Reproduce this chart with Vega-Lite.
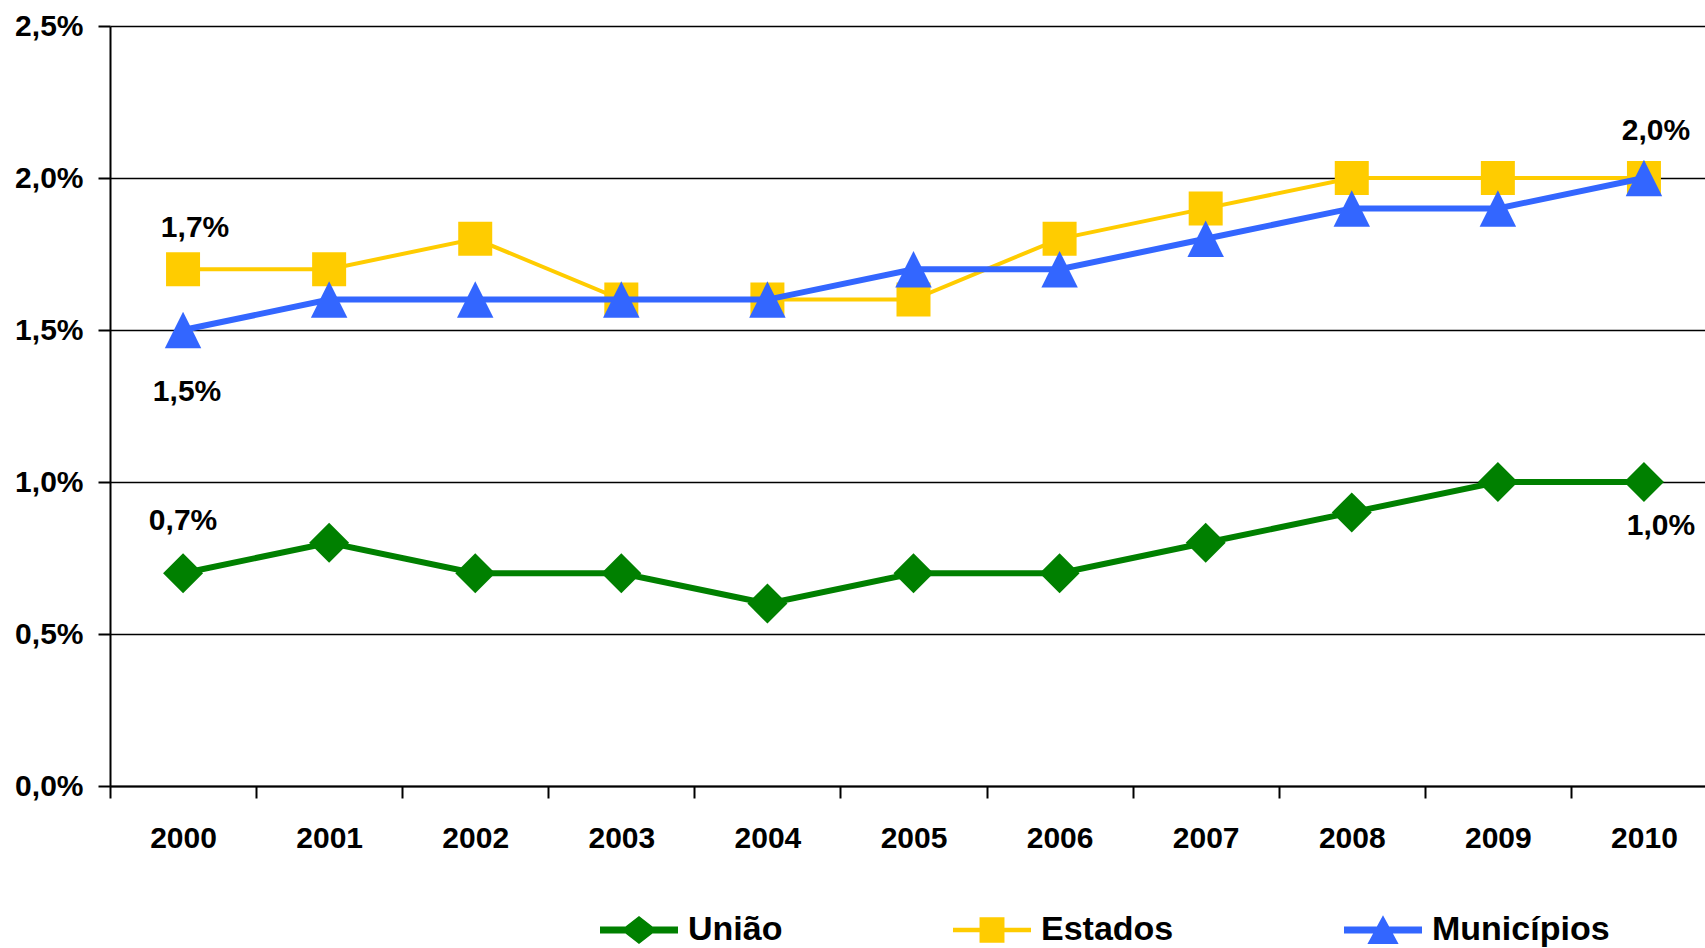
{
  "$schema": "https://vega.github.io/schema/vega-lite/v6.json",
  "width": 1607,
  "height": 760,
  "autosize": {"type": "none"},
  "padding": {"left": 110, "top": 26, "right": 0, "bottom": 162},
  "background": "white",
  "data": {
    "values": [
      {"year": "2000", "series": "União", "value": 0.7},
      {"year": "2001", "series": "União", "value": 0.8},
      {"year": "2002", "series": "União", "value": 0.7},
      {"year": "2003", "series": "União", "value": 0.7},
      {"year": "2004", "series": "União", "value": 0.6},
      {"year": "2005", "series": "União", "value": 0.7},
      {"year": "2006", "series": "União", "value": 0.7},
      {"year": "2007", "series": "União", "value": 0.8},
      {"year": "2008", "series": "União", "value": 0.9},
      {"year": "2009", "series": "União", "value": 1.0},
      {"year": "2010", "series": "União", "value": 1.0},
      {"year": "2000", "series": "Estados", "value": 1.7},
      {"year": "2001", "series": "Estados", "value": 1.7},
      {"year": "2002", "series": "Estados", "value": 1.8},
      {"year": "2003", "series": "Estados", "value": 1.6},
      {"year": "2004", "series": "Estados", "value": 1.6},
      {"year": "2005", "series": "Estados", "value": 1.6},
      {"year": "2006", "series": "Estados", "value": 1.8},
      {"year": "2007", "series": "Estados", "value": 1.9},
      {"year": "2008", "series": "Estados", "value": 2.0},
      {"year": "2009", "series": "Estados", "value": 2.0},
      {"year": "2010", "series": "Estados", "value": 2.0},
      {"year": "2000", "series": "Municípios", "value": 1.5},
      {"year": "2001", "series": "Municípios", "value": 1.6},
      {"year": "2002", "series": "Municípios", "value": 1.6},
      {"year": "2003", "series": "Municípios", "value": 1.6},
      {"year": "2004", "series": "Municípios", "value": 1.6},
      {"year": "2005", "series": "Municípios", "value": 1.7},
      {"year": "2006", "series": "Municípios", "value": 1.7},
      {"year": "2007", "series": "Municípios", "value": 1.8},
      {"year": "2008", "series": "Municípios", "value": 1.9},
      {"year": "2009", "series": "Municípios", "value": 1.9},
      {"year": "2010", "series": "Municípios", "value": 2.0}
    ]
  },
  "transform": [
    {"calculate": "replace(format(datum.value, '.1f'), '.', ',') + '%'", "as": "label"}
  ],
  "encoding": {
    "x": {
      "field": "year",
      "type": "ordinal",
      "scale": {"type": "band", "paddingInner": 0, "paddingOuter": 0},
      "axis": {
        "title": null,
        "labelAngle": 0,
        "tickBand": "extent",
        "tickSize": 12,
        "tickWidth": 2,
        "tickColor": "black",
        "domainColor": "black",
        "domainWidth": 2,
        "labelPadding": 25,
        "labelFont": "Liberation Sans",
        "labelFontWeight": "bold",
        "labelFontSize": 30,
        "labelColor": "black",
        "grid": false
      }
    },
    "y": {
      "field": "value",
      "type": "quantitative",
      "scale": {"domain": [0, 2.5], "nice": false},
      "axis": {
        "title": null,
        "values": [0, 0.5, 1, 1.5, 2, 2.5],
        "labelExpr": "replace(format(datum.value, '.1f'), '.', ',') + '%'",
        "tickSize": 12,
        "tickWidth": 2,
        "tickColor": "black",
        "domainColor": "black",
        "domainWidth": 2,
        "labelPadding": 15,
        "labelFont": "Liberation Sans",
        "labelFontWeight": "bold",
        "labelFontSize": 30,
        "labelColor": "black",
        "grid": true,
        "gridColor": "black",
        "gridWidth": 1.6,
        "gridOpacity": 1
      }
    }
  },
  "layer": [
    {
      "mark": {"type": "point", "filled": true, "opacity": 0, "size": 10},
      "encoding": {
        "color": {
          "field": "series",
          "type": "nominal",
          "scale": {"domain": ["União", "Estados", "Municípios"], "range": ["#008000", "#FFCC00", "#3366FF"]},
          "legend": {
            "title": null,
            "orient": "none",
            "legendX": 490,
            "legendY": 865,
            "direction": "horizontal",
            "columns": 3,
            "columnPadding": 170,
            "padding": 0,
            "symbolSize": 6084,
            "symbolOpacity": 1,
            "symbolStrokeWidth": 0,
            "labelFont": "Liberation Sans",
            "labelFontSize": 34,
            "labelFontWeight": "bold",
            "labelColor": "black",
            "labelOffset": 10,
            "labelLimit": 400
          }
        },
        "shape": {
          "field": "series",
          "type": "nominal",
          "scale": {
            "domain": ["União", "Estados", "Municípios"],
            "range": [
              "M-1,-0.09L-0.346,-0.09L0,-0.36L0.346,-0.09L1,-0.09L1,0.09L0.346,0.09L0,0.36L-0.346,0.09L-1,0.09Z",
              "M-1,-0.056L-0.32,-0.056L-0.32,-0.33L0.32,-0.33L0.32,-0.056L1,-0.056L1,0.056L0.32,0.056L0.32,0.33L-0.32,0.33L-0.32,0.056L-1,0.056Z",
              "M-1,-0.09L-0.157,-0.09L0,-0.38L0.157,-0.09L1,-0.09L1,0.09L0.254,0.09L0.4,0.36L-0.4,0.36L-0.254,0.09L-1,0.09Z"
            ]
          },
          "legend": {
            "title": null,
            "orient": "none",
            "legendX": 490,
            "legendY": 865,
            "direction": "horizontal",
            "columns": 3,
            "columnPadding": 170,
            "padding": 0,
            "symbolSize": 6084,
            "symbolOpacity": 1,
            "symbolStrokeWidth": 0,
            "labelFont": "Liberation Sans",
            "labelFontSize": 34,
            "labelFontWeight": "bold",
            "labelColor": "black",
            "labelOffset": 10,
            "labelLimit": 400
          }
        }
      }
    },
    {
      "transform": [{"filter": "datum.series === 'União'"}],
      "mark": {"type": "line", "color": "#008000", "strokeWidth": 6}
    },
    {
      "transform": [{"filter": "datum.series === 'União'"}],
      "mark": {"type": "point", "shape": "diamond", "size": 1600, "filled": true, "opacity": 1, "color": "#008000"}
    },
    {
      "transform": [{"filter": "datum.series === 'Estados'"}],
      "mark": {"type": "line", "color": "#FFCC00", "strokeWidth": 4}
    },
    {
      "transform": [{"filter": "datum.series === 'Estados'"}],
      "mark": {"type": "point", "shape": "square", "size": 1156, "filled": true, "opacity": 1, "color": "#FFCC00"}
    },
    {
      "transform": [{"filter": "datum.series === 'Municípios'"}],
      "mark": {"type": "line", "color": "#3366FF", "strokeWidth": 6}
    },
    {
      "transform": [{"filter": "datum.series === 'Municípios'"}],
      "mark": {"type": "point", "shape": "M-1,1L1,1L0,-1Z", "size": 1330, "filled": true, "opacity": 1, "color": "#3366FF"}
    },
    {
      "transform": [{"filter": "datum.series === 'Estados' && datum.year === '2000'"}],
      "mark": {"type": "text", "font": "Liberation Sans", "fontWeight": "bold", "fontSize": 30, "color": "black", "baseline": "middle", "align": "center", "dx": 12, "dy": -41},
      "encoding": {"text": {"field": "label"}}
    },
    {
      "transform": [{"filter": "datum.series === 'Municípios' && datum.year === '2000'"}],
      "mark": {"type": "text", "font": "Liberation Sans", "fontWeight": "bold", "fontSize": 30, "color": "black", "baseline": "middle", "align": "center", "dx": 4, "dy": 62},
      "encoding": {"text": {"field": "label"}}
    },
    {
      "transform": [{"filter": "datum.series === 'União' && datum.year === '2000'"}],
      "mark": {"type": "text", "font": "Liberation Sans", "fontWeight": "bold", "fontSize": 30, "color": "black", "baseline": "middle", "align": "center", "dx": 0, "dy": -52},
      "encoding": {"text": {"field": "label"}}
    },
    {
      "transform": [{"filter": "datum.series === 'Estados' && datum.year === '2010'"}],
      "mark": {"type": "text", "font": "Liberation Sans", "fontWeight": "bold", "fontSize": 30, "color": "black", "baseline": "middle", "align": "center", "dx": 12, "dy": -47},
      "encoding": {"text": {"field": "label"}}
    },
    {
      "transform": [{"filter": "datum.series === 'União' && datum.year === '2010'"}],
      "mark": {"type": "text", "font": "Liberation Sans", "fontWeight": "bold", "fontSize": 30, "color": "black", "baseline": "middle", "align": "center", "dx": 17, "dy": 44},
      "encoding": {"text": {"field": "label"}}
    }
  ],
  "config": {
    "view": {"stroke": null}
  }
}
